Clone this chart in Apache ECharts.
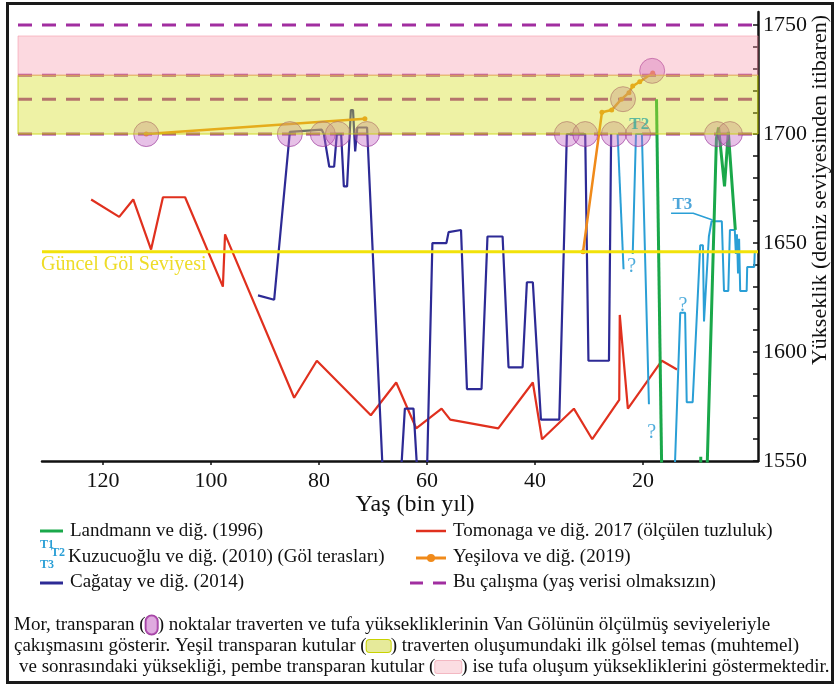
<!DOCTYPE html>
<html><head><meta charset="utf-8">
<script src="https://cdn.jsdelivr.net/npm/echarts@6/dist/echarts.min.js"></script>
<style>html,body{margin:0;padding:0;background:#fff}#c{width:838px;height:686px}</style>
</head><body><div id="c"></div>
<script>
// ---- data (age in ka, elevation in m) ----
const xTickValues = [20, 40, 60, 80, 100, 120];
const yLabelValues = [1550, 1600, 1650, 1700, 1750];
const yTickValues = [1550,1560,1570,1580,1590,1600,1610,1620,1630,1640,1650,1660,1670,1680,1690,1700,1710,1720,1730,1740,1750];

const tomonaga = [[122.2,1670],[117.0,1662],[114.4,1670],[111.1,1647],[108.9,1671],[104.8,1671],[97.8,1630],[97.4,1654],[84.6,1579],[80.4,1596],[70.4,1571],[65.7,1586],[62.0,1565],[57.3,1574],[55.7,1569],[46.8,1565],[40.4,1586],[38.7,1560],[32.8,1574],[29.4,1560],[24.4,1578],[24.3,1617],[22.8,1574],[16.5,1596],[13.7,1592]];

const cagatay = [[91.3,1626],[88.3,1624],[85.4,1701],[79.5,1702],[79.1,1700],[78.1,1685],[77.2,1685],[76.7,1700],[75.9,1700],[75.4,1676],[74.8,1676],[74.1,1711],[73.7,1711],[73.3,1692],[72.9,1703],[71.1,1703],[68.2,1545],[64.8,1545],[64.1,1574],[62.5,1574],[61.8,1545],[60.0,1545],[59.0,1650],[56.4,1650],[56.0,1655],[53.7,1656],[52.6,1583],[49.9,1583],[48.8,1653],[46.0,1653],[44.9,1593],[42.3,1593],[41.5,1632],[40.4,1632],[38.9,1569],[35.5,1569],[34.1,1700],[30.7,1700],[30.1,1596],[26.3,1596],[25.9,1700]];

const kuzucuoglu = [
  [[24.7,1700],[23.6,1638]],
  [[21.9,1645],[21.3,1700],[20.2,1700],[18.9,1576]],
  [[14.2,1540],[13.1,1618],[12.2,1618],[11.9,1577],[10.8,1577],[9.4,1649],[8.9,1649],[8.7,1614],[7.8,1653],[7.5,1653],[7.3,1660],[5.4,1660],[5.0,1628],[4.2,1628],[3.9,1656],[3.0,1656],[2.8,1645],[2.6,1654],[2.4,1636],[2.2,1652],[2.0,1628],[0.8,1628],[0.7,1639],[-0.6,1639],[-0.7,1646]]
];

const landmann = [
  [[17.5,1716],[16.5,1540]],
  [[9.3,1540],[9.3,1552]],
  [[8.2,1540],[6.4,1698],[6.0,1703],[4.9,1676],[4.2,1701],[2.9,1656]]
];

const yesilova = [
  [[112.0,1700],[71.5,1707]],
  [[31.1,1646],[27.6,1710],[25.8,1711],[24.0,1716],[22.6,1719],[21.9,1722],[20.6,1724],[18.2,1728]]
];

const overlapPoints = [[112.0,1700],[85.4,1700],[79.3,1700],[76.5,1700],[71.1,1700],[34.1,1700],[30.7,1700],[25.4,1700],[20.9,1700],[6.3,1700],[3.9,1700],[23.7,1716],[18.3,1729]];

const lakeLevel = 1646;
const dashedLevels = [1700, 1716, 1727, 1750];
const travertineBand = [1700, 1727];
const tufaBand = [1727, 1745];

const questionMarks = [[22.1,1639],[12.6,1621],[18.4,1563]];
const t2Label = [20.7,1704.5];
const t3Label = [12.7,1667.5];
const t3Leader = [[14.8,1663.7],[10.7,1663.7],[7.1,1660.6]];

// ---- axis extents ----
const Y_MIN = 1550, Y_MAX = 1756;
const X_MIN = -1.3, X_MAX = 131.3, X_MAX_BAND = 135.7;

const SERIF = '"Liberation Serif","DejaVu Serif",serif';
const C_RED = '#e0301e', C_BLUE = '#2d2a95', C_CYAN = '#2a9fd6', C_GREEN = '#1aa84a', C_ORANGE = '#f08a1a', C_PURPLE = '#a12ea0', C_YELLOW = '#f2e20a';

const chart = echarts.init(document.getElementById('c'), null, {renderer: 'canvas'});

const series = [];
function lineSeries(data, color, width, z, extra) {
  return Object.assign({
    type: 'line', xAxisIndex: 1, yAxisIndex: 1, data: data, symbol: 'none',
    lineStyle: {color: color, width: width}, itemStyle: {color: color},
    z: z, silent: true, animation: false, clip: true
  }, extra || {});
}
// dashed "this study" levels (grid 0, under bands)
dashedLevels.forEach(v => series.push({
  type: 'line', xAxisIndex: 0, yAxisIndex: 0, data: [[X_MAX_BAND, v], [X_MIN, v]], symbol: 'none',
  lineStyle: {color: C_PURPLE, width: 3, type: [14, 10]}, z: 2, silent: true, animation: false
}));
series.push(lineSeries(tomonaga, C_RED, 2.2, 2));
series.push(lineSeries(cagatay, C_BLUE, 2.2, 2));
kuzucuoglu.forEach(s => series.push(lineSeries(s, C_CYAN, 2, 2)));
landmann.forEach(s => series.push(lineSeries(s, C_GREEN, 3, 2)));
yesilova.forEach(s => series.push(lineSeries(s, C_ORANGE, 2.5, 3, {symbol: 'circle', symbolSize: 5, showSymbol: true})));
series.push(lineSeries(t3Leader, C_CYAN, 1.5, 3));
// overlap circles
series.push({
  type: 'scatter', xAxisIndex: 1, yAxisIndex: 1, data: overlapPoints, symbol: 'circle', symbolSize: 25,
  itemStyle: {color: 'rgba(196,100,196,0.5)', borderColor: 'rgba(150,50,150,0.8)', borderWidth: 1},
  z: 3, silent: true, animation: false
});
// translucent bands (on top)
series.push({
  type: 'custom', xAxisIndex: 0, yAxisIndex: 0, silent: true, animation: false, z: 5,
  data: [[travertineBand[0], travertineBand[1], 0], [tufaBand[0], tufaBand[1], 1]],
  renderItem: function (params, api) {
    const lo = api.value(0), hi = api.value(1), k = api.value(2);
    const p1 = api.coord([X_MAX_BAND, hi]);
    const p2 = api.coord([X_MIN, lo]);
    const fill = k === 0 ? 'rgba(212,222,30,0.40)' : 'rgba(245,140,160,0.33)';
    const stroke = k === 0 ? 'rgba(200,210,0,0.8)' : 'rgba(245,140,160,0.5)';
    return {type: 'rect', shape: {x: p1[0], y: p1[1], width: p2[0] - p1[0], height: p2[1] - p1[1]},
      style: {fill: fill, stroke: stroke, lineWidth: 1}};
  }
});
// lake level
series.push({
  type: 'line', xAxisIndex: 1, yAxisIndex: 1, data: [[X_MAX, lakeLevel], [X_MIN, lakeLevel]], symbol: 'none',
  lineStyle: {color: C_YELLOW, width: 3}, z: 6, silent: true, animation: false
});
// annotations
series.push({
  type: 'scatter', xAxisIndex: 1, yAxisIndex: 1, symbolSize: 1, itemStyle: {color: 'rgba(0,0,0,0)'},
  data: questionMarks, z: 7, silent: true, animation: false,
  label: {show: true, position: 'inside', formatter: '?', color: '#1f96d2', fontFamily: SERIF, fontSize: 20}
});
series.push({
  type: 'scatter', xAxisIndex: 1, yAxisIndex: 1, symbolSize: 1, itemStyle: {color: 'rgba(0,0,0,0)'},
  data: [t2Label], z: 7, silent: true, animation: false,
  label: {show: true, position: 'inside', formatter: 'T2', color: '#3aaa9c', fontFamily: SERIF, fontSize: 17, fontWeight: 'bold'}
});
series.push({
  type: 'scatter', xAxisIndex: 1, yAxisIndex: 1, symbolSize: 1, itemStyle: {color: 'rgba(0,0,0,0)'},
  data: [t3Label], z: 7, silent: true, animation: false,
  label: {show: true, position: 'inside', formatter: 'T3', color: '#1f8fcf', fontFamily: SERIF, fontSize: 17, fontWeight: 'bold'}
});

const legendFont = '19px ' + SERIF;
const captionFont = '19px ' + SERIF;
function txt(x, y, text, font, color, extra) {
  return Object.assign({type: 'text', x: x, y: y, z: 20, silent: true,
    style: {text: text, font: font, fill: color || '#111', textVerticalAlign: 'middle'}}, extra || {});
}
function seg(x1, y1, x2, y2, color, w, dash) {
  return {type: 'line', z: 20, silent: true, shape: {x1: x1, y1: y1, x2: x2, y2: y2},
    style: {stroke: color, lineWidth: w, lineDash: dash || null}};
}
const richSwatch = {
  c: {width: 12, height: 19, backgroundColor: 'rgba(196,100,196,0.55)', borderColor: '#a040a0', borderWidth: 1, borderRadius: 6},
  g: {width: 24, height: 12, backgroundColor: '#e6ea9a', borderColor: '#c8d200', borderWidth: 1, borderRadius: 3},
  p: {width: 26, height: 12, backgroundColor: '#fbdde2', borderColor: '#f3b8c2', borderWidth: 1, borderRadius: 2}
};

const graphic = [
  {type: 'rect', z: 0, silent: true, shape: {x: 7.5, y: 3.5, width: 825, height: 679}, style: {fill: 'none', stroke: '#1a1a1a', lineWidth: 3}},
  txt(41, 265, 'Güncel Göl Seviyesi', '20px ' + SERIF, '#eedc28'),
  {type: 'text', x: 415, y: 505, z: 20, silent: true, style: {text: 'Yaş (bin yıl)', font: '24px ' + SERIF, fill: '#111', textAlign: 'center', textVerticalAlign: 'middle'}},
  {type: 'text', x: 820, y: 190, rotation: Math.PI / 2, z: 20, silent: true,
    style: {text: 'Yükseklik (deniz seviyesinden itibaren)', font: '22px ' + SERIF, fill: '#111', textAlign: 'center', textVerticalAlign: 'middle'}},
  // legend
  seg(40, 531, 63, 531, C_GREEN, 3),
  txt(70, 531, 'Landmann ve diğ. (1996)', legendFont),
  txt(40, 545, 'T1', 'bold 12px ' + SERIF, C_CYAN),
  txt(51, 553, 'T2', 'bold 12px ' + SERIF, C_CYAN),
  txt(40, 565, 'T3', 'bold 12px ' + SERIF, C_CYAN),
  txt(68, 557, 'Kuzucuoğlu ve diğ. (2010) (Göl terasları)', legendFont),
  seg(40, 583, 63, 583, C_BLUE, 3),
  txt(70, 582, 'Cağatay ve diğ. (2014)', legendFont),
  seg(416, 531, 446, 531, C_RED, 2.5),
  txt(453, 531, 'Tomonaga ve diğ. 2017 (ölçülen tuzluluk)', legendFont),
  seg(416, 558, 446, 558, C_ORANGE, 3),
  {type: 'circle', z: 21, silent: true, shape: {cx: 431, cy: 558, r: 4}, style: {fill: C_ORANGE}},
  txt(453, 557, 'Yeşilova ve diğ. (2019)', legendFont),
  seg(410, 583, 423, 583, C_PURPLE, 3),
  seg(433, 583, 446, 583, C_PURPLE, 3),
  txt(453, 582, 'Bu çalışma (yaş verisi olmaksızın)', legendFont),
  // caption
  {type: 'text', x: 14, y: 625, z: 20, silent: true, style: {text: 'Mor, transparan ({c| }) noktalar traverten ve tufa yüksekliklerinin Van Gölünün ölçülmüş seviyeleriyle', font: captionFont, fill: '#111', textVerticalAlign: 'middle', rich: richSwatch}},
  {type: 'text', x: 14, y: 646, z: 20, silent: true, style: {text: 'çakışmasını gösterir. Yeşil transparan kutular ({g| }) traverten oluşumundaki ilk gölsel temas (muhtemel)', font: captionFont, fill: '#111', textVerticalAlign: 'middle', rich: richSwatch}},
  {type: 'text', x: 19, y: 667, z: 20, silent: true, style: {text: 've sonrasındaki yüksekliği, pembe transparan kutular ({p| }) ise tufa oluşum yüksekliklerini göstermektedir.', font: captionFont, fill: '#111', textVerticalAlign: 'middle', rich: richSwatch}}
];

const option = {
  animation: false,
  backgroundColor: '#fff',
  grid: [
    {left: 18, right: 80, top: 12, bottom: 225},
    {left: 42, right: 80, top: 12, bottom: 225}
  ],
  xAxis: [
    {gridIndex: 0, type: 'value', min: X_MIN, max: X_MAX_BAND, inverse: true, show: false},
    {gridIndex: 1, type: 'value', min: X_MIN, max: X_MAX, inverse: true,
      axisLine: {show: true, onZero: false, lineStyle: {color: '#111', width: 2.5}},
      axisTick: {show: true, length: 4, inside: false, customValues: xTickValues, lineStyle: {color: '#111', width: 1.5}},
      axisLabel: {show: true, customValues: xTickValues, margin: 9, color: '#111', fontFamily: SERIF, fontSize: 22, formatter: v => String(v)},
      splitLine: {show: false}}
  ],
  yAxis: [
    {gridIndex: 0, type: 'value', min: Y_MIN, max: Y_MAX, show: false},
    {gridIndex: 1, type: 'value', min: Y_MIN, max: Y_MAX, position: 'right',
      axisLine: {show: true, onZero: false, lineStyle: {color: '#111', width: 2.5}},
      axisTick: {show: true, inside: true, length: 5, customValues: yTickValues, lineStyle: {color: '#111', width: 1.5}},
      axisLabel: {show: true, customValues: yLabelValues, margin: 5, color: '#111', fontFamily: SERIF, fontSize: 22, formatter: v => String(v)},
      splitLine: {show: false}}
  ],
  series: series,
  graphic: graphic
};
chart.setOption(option);
</script>
</body></html>
